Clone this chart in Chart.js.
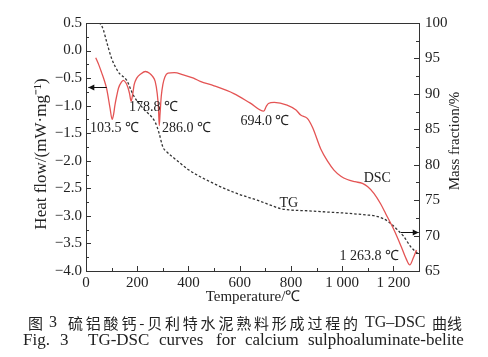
<!DOCTYPE html>
<html><head><meta charset="utf-8">
<script src="https://cdn.jsdelivr.net/npm/chart.js@4.4.0/dist/chart.umd.min.js"></script>
<style>html,body{margin:0;padding:0;background:#fff;}canvas{display:block;}</style>
</head><body>
<canvas id="c" width="488" height="357"></canvas>
<script>
// ---- data ----
const dscT = [38,50,61,70,81,94,102,108,113,120,127,139,146,155,163,170,176,182,188,198,215,232,248,260,270,278,283,286,289,294,300,308,320,345,380,420,446,500,577,640,694,703,712,735,785,820,838,864,885,916,945,968,995,1020,1050,1079,1100,1124,1150,1170,1203,1230,1250,1264,1278,1290];
const dscV = [-0.13,-0.26,-0.40,-0.52,-0.70,-1.05,-1.25,-1.15,-0.99,-0.82,-0.68,-0.57,-0.54,-0.58,-0.66,-0.78,-0.92,-0.80,-0.62,-0.50,-0.42,-0.38,-0.41,-0.47,-0.56,-0.78,-1.05,-1.36,-1.15,-0.82,-0.62,-0.48,-0.41,-0.40,-0.44,-0.50,-0.56,-0.64,-0.78,-0.95,-1.10,-1.02,-0.96,-0.94,-0.99,-1.08,-1.17,-1.23,-1.40,-1.78,-2.02,-2.17,-2.28,-2.34,-2.38,-2.41,-2.47,-2.59,-2.78,-2.96,-3.26,-3.55,-3.78,-3.89,-3.76,-3.62];
const tgT = [50,58,68,81,100,126,159,185,224,270,285,300,316,355,400,446,490,537,600,668,720,759,800,864,950,1000,1098,1124,1160,1190,1216,1240,1268,1294];
const tgM = [100,99.8,99.0,97.3,95.0,93.1,91.9,89.8,87.9,86.0,84.5,82.5,81.8,80.6,79.3,78.3,77.5,76.7,75.8,75.0,74.3,73.8,73.6,73.5,73.3,73.2,72.9,72.8,72.4,71.7,70.8,69.9,68.4,67.5];
const xTicks = [0,200,400,600,800,1000,1200];
const yTicks = [-4,-3.5,-3,-2.5,-2,-1.5,-1,-0.5,0,0.5];
const y1Ticks = [65,70,75,80,85,90,95,100];
const annotations = [
  {text:'103.5 ℃', t:16, v:-1.41},
  {text:'178.8 ℃', t:168, v:-1.03},
  {text:'286.0 ℃', t:297, v:-1.41},
  {text:'694.0 ℃', t:603, v:-1.29},
  {text:'DSC', t:1084, v:-2.31},
  {text:'TG', t:755, v:-2.77},
  {text:'1 263.8 ℃', t:990, v:-3.74}
];
const leftArrow = {t0:81, t1:9, v:-0.67};
const rightArrow = {t0:1229, t1:1299, m:70.5};

const RED = 'rgb(228,84,84)';
const AXIS = '#333';
const TXT = '#222';
const SERIF = '"Liberation Serif", "Times New Roman", serif';

function fmtMinus(v, d){ return v.toFixed(d).replace('-', '\u2212'); }

const deco = {
  id: 'deco',
  afterDraw(chart){
    const {ctx, chartArea:a, scales:{x, y, y1}} = chart;
    ctx.save();
    ctx.strokeStyle = AXIS; ctx.lineWidth = 1;
    const ln = (x0,y0,x1,y1_) => { ctx.beginPath(); ctx.moveTo(x0,y0); ctx.lineTo(x1,y1_); ctx.stroke(); };
    // top border
    ln(a.left, Math.round(a.top)+0.5, a.right, Math.round(a.top)+0.5);
    // x ticks (inward)
    for (let t = 0; t <= 1300; t += 100){
      const px = Math.round(x.getPixelForValue(t)) + 0.5;
      ln(px, a.bottom, px, a.bottom - (t % 200 === 0 ? 5 : 3));
    }
    // left y ticks
    for (let k = 0; k <= 18; k++){
      const v = -4 + k * 0.25;
      const py = Math.round(y.getPixelForValue(v)) + 0.5;
      ln(a.left, py, a.left + (k % 2 === 0 ? 5 : 3), py);
    }
    // right y ticks
    for (let k = 0; k <= 14; k++){
      const m = 65 + k * 2.5;
      const py = Math.round(y1.getPixelForValue(m)) + 0.5;
      ln(a.right, py, a.right - (k % 2 === 0 ? 5 : 3), py);
    }
    // arrows
    const arrow = (xa, xb, yy) => {
      ctx.strokeStyle = '#111'; ctx.fillStyle = '#111';
      ln(xa, yy, xb, yy);
      const dir = Math.sign(xb - xa);
      ctx.beginPath();
      ctx.moveTo(xb, yy); ctx.lineTo(xb - dir*6, yy - 3); ctx.lineTo(xb - dir*6, yy + 3); ctx.closePath(); ctx.fill();
    };
    arrow(x.getPixelForValue(leftArrow.t0), x.getPixelForValue(leftArrow.t1), Math.round(y.getPixelForValue(leftArrow.v)) + 0.5);
    arrow(x.getPixelForValue(rightArrow.t0), x.getPixelForValue(rightArrow.t1), Math.round(y1.getPixelForValue(rightArrow.m)) + 0.5);

    // annotations
    ctx.fillStyle = TXT;
    ctx.font = '14px ' + SERIF;
    ctx.textBaseline = 'middle'; ctx.textAlign = 'left';
    annotations.forEach(an => ctx.fillText(an.text, x.getPixelForValue(an.t), y.getPixelForValue(an.v)));

    // axis titles
    ctx.font = '15px ' + SERIF;
    ctx.textAlign = 'center';
    ctx.fillText('Temperature/℃', 253, 297);
    ctx.save(); ctx.translate(455, 141); ctx.rotate(-Math.PI/2); ctx.fillText('Mass fraction/%', 0, 0); ctx.restore();
    ctx.font = '17px ' + SERIF;
    ctx.save(); ctx.translate(42, 154); ctx.rotate(-Math.PI/2); ctx.fillText('Heat flow/(mW·mg⁻¹)', 0, 0); ctx.restore();

    // caption
    ctx.textAlign = 'left';
    const CJK = '"Noto Sans CJK SC", sans-serif';
    const spread = (s, x0, x1, yy) => {
      const chars = [...s];
      const widths = chars.map(c => ctx.measureText(c).width);
      const total = widths.reduce((p,q)=>p+q,0);
      const gap = (x1 - x0 - total) / (chars.length - 1);
      let cx = x0;
      chars.forEach((c,i) => { ctx.fillText(c, cx, yy); cx += widths[i] + gap; });
    };
    ctx.font = '15px ' + CJK;
    ctx.fillText('图', 28, 323);
    ctx.font = '16px ' + SERIF;
    ctx.fillText('3', 49, 323);
    ctx.font = '15px ' + CJK;
    spread('硫铝酸钙-贝利特水泥熟料形成过程的', 68, 358, 323);
    ctx.font = '16px ' + SERIF;
    ctx.fillText('TG–DSC', 365, 323);
    ctx.font = '15px ' + CJK;
    ctx.fillText('曲线', 432, 323);
    ctx.font = '17px ' + SERIF;
    [['Fig.',23],['3',60],['TG-DSC',88],['curves',159],['for',216],['calcium',245],['sulphoaluminate-belite',308]]
      .forEach(([w,px]) => ctx.fillText(w, px, 341));
    ctx.restore();
  }
};

const tickFont = {family: SERIF, size: 15};

new Chart(document.getElementById('c'), {
  type: 'scatter',
  data: {
    datasets: [
      {label:'DSC', data: dscT.map((t,i)=>({x:t, y:dscV[i]})), yAxisID:'y', showLine:true, borderColor:RED, borderWidth:1.3, pointRadius:0, cubicInterpolationMode:'monotone'},
      {label:'TG', data: tgT.map((t,i)=>({x:t, y:tgM[i]})), yAxisID:'y1', showLine:true, borderColor:'#333', borderWidth:1.3, borderDash:[2.5,2], pointRadius:0, cubicInterpolationMode:'monotone'}
    ]
  },
  options: {
    responsive:false, animation:false, devicePixelRatio:1,
    layout:{padding:{top:23, left:0, right:0, bottom:0}},
    plugins:{legend:{display:false}, tooltip:{enabled:false}},
    scales:{
      x:{type:'linear', min:0, max:1300,
         afterBuildTicks: s => { s.ticks = xTicks.map(v=>({value:v})); },
         afterFit: s => { s.height = 86; },
         grid:{display:false, drawTicks:false}, border:{display:true, color:AXIS, width:1},
         ticks:{font:tickFont, color:TXT, padding:3, maxRotation:0, autoSkip:false,
                callback: v => v >= 1000 ? String(v).replace(/^(\d)(\d{3})$/, '$1 $2') : String(v)}},
      y:{type:'linear', position:'left', min:-4, max:0.5,
         afterBuildTicks: s => { s.ticks = yTicks.map(v=>({value:v})); },
         afterFit: s => { s.width = 86; },
         grid:{display:false, drawTicks:false}, border:{display:true, color:AXIS, width:1},
         ticks:{font:tickFont, color:TXT, padding:4, autoSkip:false, callback: v => fmtMinus(v,1)}},
      y1:{type:'linear', position:'right', min:65, max:100,
         afterBuildTicks: s => { s.ticks = y1Ticks.map(v=>({value:v})); },
         afterFit: s => { s.width = 69; },
         grid:{display:false, drawTicks:false}, border:{display:true, color:AXIS, width:1},
         ticks:{font:tickFont, color:TXT, padding:6, autoSkip:false, callback: v => String(v)}}
    }
  },
  plugins:[deco]
});
</script>
</body></html>
